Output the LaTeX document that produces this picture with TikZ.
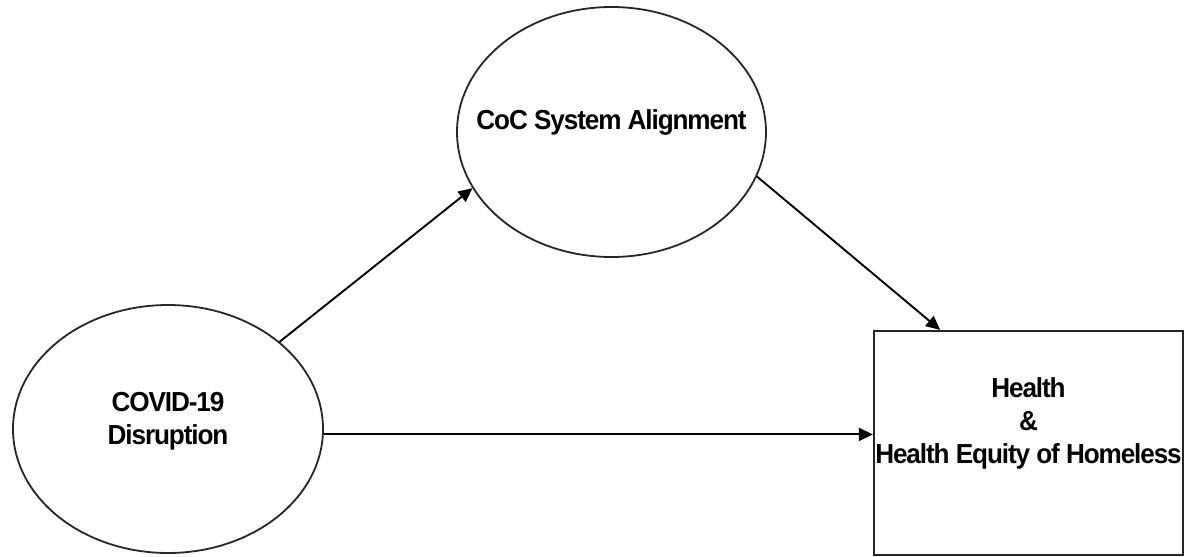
\documentclass[tikz,border=0pt]{standalone}
\usepackage{fontspec}
\newfontfamily\diafont{Liberation Sans}[FakeStretch=0.95,LetterSpace=-4]
\usetikzlibrary{shapes.geometric,arrows.meta,calc}
\definecolor{edgegray}{HTML}{262626}

\begin{document}
\begin{tikzpicture}[x=1pt,y=-1pt,
    oval/.style={draw=edgegray,line width=1.8pt,ellipse,inner sep=0pt},
    box/.style={draw=edgegray,line width=2.2pt,rectangle,inner sep=0pt},
    lbl/.style={font=\diafont\bfseries\fontsize{27.5}{33}\selectfont,align=center,inner sep=0pt},
    link/.style={line width=1.9pt,-{Triangle[length=14pt,width=13pt]}}]
  \useasboundingbox (0,0) rectangle (1187,557);
  % shapes
  \node[oval,minimum width=310pt,minimum height=248pt](cov) at (168,429){};
  \node[oval,minimum width=309pt,minimum height=250pt](coc) at (611.5,132){};
  \node[box,minimum width=309pt,minimum height=224pt](hea) at (1028.5,443){};
  % texts
  \node[lbl](covtext) at ([yshift=8pt]cov.center){COVID-19\\Disruption};
  \node[lbl](coctext) at ([yshift=10pt]coc.center){CoC System Alignment};
  \node[lbl](heatext) at ([yshift=20pt]hea.center){Health\\\&\\Health Equity of Homeless};
  % arrows
  \draw[link] (cov.38.6) -- (coc.202);
  \draw[link] (coc.343.5) -- (hea.128.9);
  \draw[link] (cov.358.5) -- (cov.358.5 -| hea.west);
\end{tikzpicture}
\end{document}
